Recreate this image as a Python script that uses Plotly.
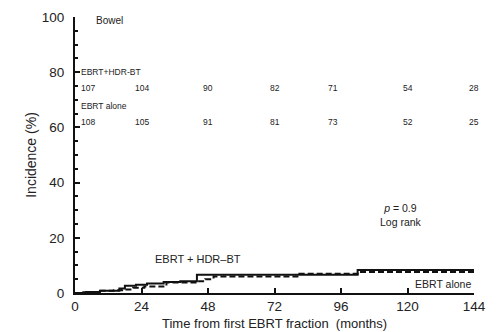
import plotly.graph_objects as go

# Cumulative incidence step curves (months, %)
hdr_t = [0, 4, 9, 16, 18, 22, 26, 32, 38, 44, 102, 144]
hdr_y = [0, 0.4, 0.8, 1.6, 2.6, 3.0, 3.4, 4.0, 4.3, 6.6, 8.3, 8.3]
alone_t = [0, 3, 8, 14, 17, 21, 25, 33, 44, 47, 50, 81, 102, 144]
alone_y = [0, 0.3, 0.8, 1.0, 1.3, 1.9, 2.4, 3.8, 4.3, 5.0, 6.0, 7.0, 7.6, 7.6]

# Numbers at risk
risk_t = [0, 24, 48, 72, 93, 120, 144]
risk_hdr = [107, 104, 90, 82, 71, 54, 28]
risk_alone = [108, 105, 91, 81, 73, 52, 25]

x_ticks = [0, 24, 48, 72, 96, 120, 144]
y_ticks = [0, 20, 40, 60, 80, 100]

FONT = "Liberation Sans, Arial, sans-serif"
TXT = "#222"

fig = go.Figure()
fig.add_trace(go.Scatter(x=hdr_t, y=hdr_y, mode="lines", line_shape="hv",
                         line=dict(color="#111", width=2), showlegend=False))
fig.add_trace(go.Scatter(x=alone_t, y=alone_y, mode="lines", line_shape="hv",
                         line=dict(color="#111", width=2, dash="6px,3px"), showlegend=False))

ann = []
def add(x, y, text, size, xanchor="center", xshift=0):
    ann.append(dict(x=x, y=y, text=text, showarrow=False, xanchor=xanchor,
                    yanchor="middle", xshift=xshift,
                    font=dict(family=FONT, size=size, color=TXT)))

add(0, 98.8, "Bowel", 10, "left", 19)
add(0, 80.2, "EBRT+HDR-BT", 8.5, "left", 4)
add(0, 67.7, "EBRT alone", 8.5, "left", 4)
for i, (t, a, b) in enumerate(zip(risk_t, risk_hdr, risk_alone)):
    if i == 0:
        add(t, 74.2, str(a), 8.5, "left", 4)
        add(t, 62.0, str(b), 8.5, "left", 4)
    else:
        add(t, 74.2, str(a), 8.5)
        add(t, 62.0, str(b), 8.5)
add(117.5, 28.3, "<i>p</i> = 0.9<br>Log rank", 10.5)
add(44.3, 12.2, "EBRT + HDR\u2013BT", 11)
add(132.7, 3.4, "EBRT alone", 10.5)
# x-axis title near the bottom edge
ann.append(dict(x=0.5, y=-0.112, xref="paper", yref="paper", showarrow=False,
                text="Time from first EBRT fraction  (months)",
                xanchor="center", yanchor="middle",
                font=dict(family=FONT, size=13, color=TXT)))
fig.update_layout(annotations=ann)

fig.update_layout(
    width=497, height=332,
    margin=dict(l=75, r=23, t=17, b=39, pad=0),
    paper_bgcolor="white", plot_bgcolor="white",
    font=dict(family=FONT, color=TXT),
    xaxis=dict(range=[0, 144], tickvals=x_ticks, ticks="inside", ticklen=5,
               tickwidth=2, tickcolor="#111", showline=True, linecolor="#111",
               linewidth=2, showgrid=False, zeroline=False, automargin=False,
               tickfont=dict(family=FONT, size=13.5, color=TXT)),
    yaxis=dict(range=[0, 100], tickvals=y_ticks, ticks="inside", ticklen=5,
               tickwidth=2, tickcolor="#111", showline=True, linecolor="#111",
               linewidth=2, showgrid=False, zeroline=False, automargin=False,
               ticklabelstandoff=6,
               tickfont=dict(family=FONT, size=13.5, color=TXT),
               minor=dict(dtick=5, ticks="inside", ticklen=3, tickwidth=1.5,
                          tickcolor="#111", showgrid=False),
               title=dict(text="Incidence (%)",
                          font=dict(family=FONT, size=14, color=TXT), standoff=2)),
)

fig.write_html("out.html")
